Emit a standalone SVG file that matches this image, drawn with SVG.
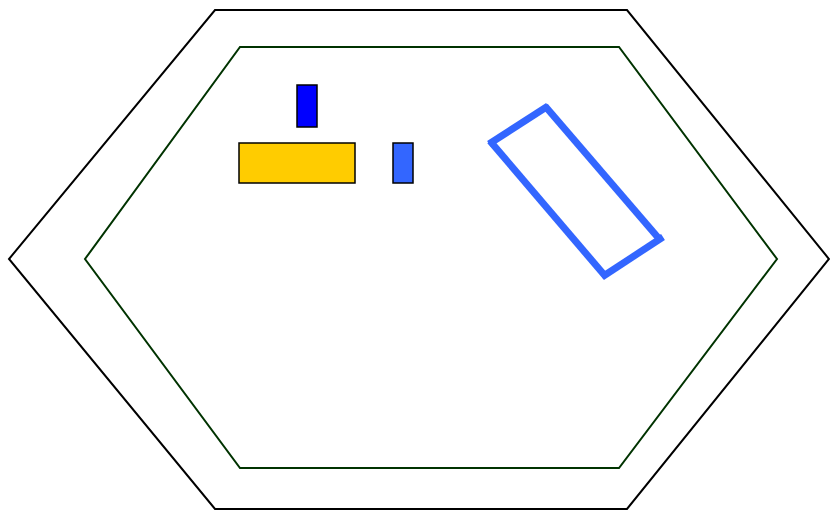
<svg xmlns="http://www.w3.org/2000/svg" width="830" height="511" viewBox="0 0 830 511">
<style>
.box{stroke:#000;stroke-width:1.5}
.rot{stroke:#3366ff;stroke-width:7;stroke-linecap:butt;fill:none}
</style>
<rect width="830" height="511" fill="#fff"/>
<g id="outer-hex"><polygon points="215,10 627,10 829,259 627,509 215,509 9,259" fill="none" stroke="#000" stroke-width="2"/></g>
<g id="inner-hex"><polygon points="240,47 619,47 777,259 619,468 240,468 85,259" fill="none" stroke="#003300" stroke-width="2"/></g>
<g id="blue-rect"><rect class="box" x="297" y="85" width="20" height="42" fill="#0000ff"/></g>
<g id="yellow-rect"><rect class="box" x="239" y="143" width="116" height="40" fill="#ffcc00"/></g>
<g id="lightblue-rect"><rect class="box" x="393" y="143" width="20" height="40" fill="#3366ff"/></g>
<g id="rotated-rect">
<line class="rot" x1="489" y1="144" x2="548" y2="106"/>
<line class="rot" x1="545" y1="106" x2="661" y2="241"/>
<line class="rot" x1="663" y1="237" x2="602" y2="277"/>
<line class="rot" x1="606" y1="277" x2="490" y2="141"/>
</g>
</svg>
